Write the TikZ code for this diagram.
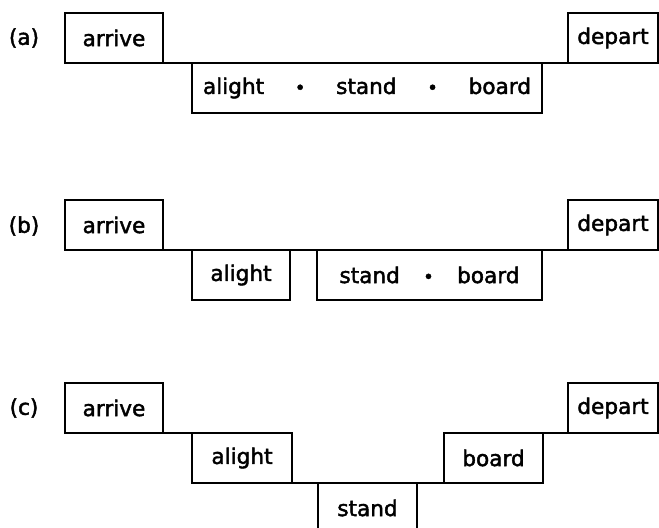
\documentclass[tikz,border=0pt]{standalone}
\usepackage{fontspec}
\setmainfont{DejaVu Sans}
\newfontfamily\stagefont{DejaVu Sans}[FakeBold=2]
\usetikzlibrary{positioning}
\newcommand{\stagedot}{{\small\textbullet}}

\begin{document}
\begin{tikzpicture}[x=0.5pt,y=-0.5pt]
\tikzset{
  stage/.style={draw,line width=1.4pt,minimum width=49pt,minimum height=25pt,
    inner sep=0pt,outer sep=0pt,anchor=north west,
    font=\stagefont\fontsize{10.8}{12}\selectfont},
  link/.style={line width=0.8pt},
  case/.style={font=\stagefont\fontsize{10.8}{12}\selectfont}
}
\useasboundingbox (0,0) rectangle (659,528);
\clip (0,0) rectangle (659,528);

% (a)
\node[case] (caseA) at (24,38) {(a)};
\node[stage] (arriveA) at (65,13) {arrive};
\node[stage,minimum width=175pt] (stayA) at (192,63)
  {\makebox[164pt]{alight\hfill\stagedot\hfill stand\hfill\stagedot\hfill board}};
\node[stage,minimum width=45pt] (departA) at (568,13) {depart};
\draw[link] (arriveA.south east) -- (departA.south west);

% (b)
\node[case] (caseB) at (24,226) {(b)};
\node[stage] (arriveB) at (65,200) {arrive};
\node[stage] (alightB) at (192,250) {alight};
\node[stage,minimum width=112.5pt] (stayB) at (317,250)
  {\makebox[90pt]{stand\hfill\stagedot\hfill board}};
\node[stage,minimum width=45pt] (departB) at (568,200) {depart};
\draw[link] (arriveB.south east) -- (departB.south west);

% (c)
\node[case] (caseC) at (24,408) {(c)};
\node[stage] (arriveC) at (65,383) {arrive};
\node[stage,minimum width=50pt] (alightC) at (192,433) {alight};
\node[stage,minimum width=49.5pt] (standC) at (318,483) {stand};
\node[stage,minimum width=49.5pt] (boardC) at (444,433) {board};
\node[stage,minimum width=45pt] (departC) at (568,383) {depart};
\draw[link] (arriveC.south east) -- (alightC.north west);
\draw[link] (alightC.south east) -- (standC.north west);
\draw[link] (standC.north east) -- (boardC.south west);
\draw[link] (boardC.north east) -- (departC.south west);

\end{tikzpicture}
\end{document}
